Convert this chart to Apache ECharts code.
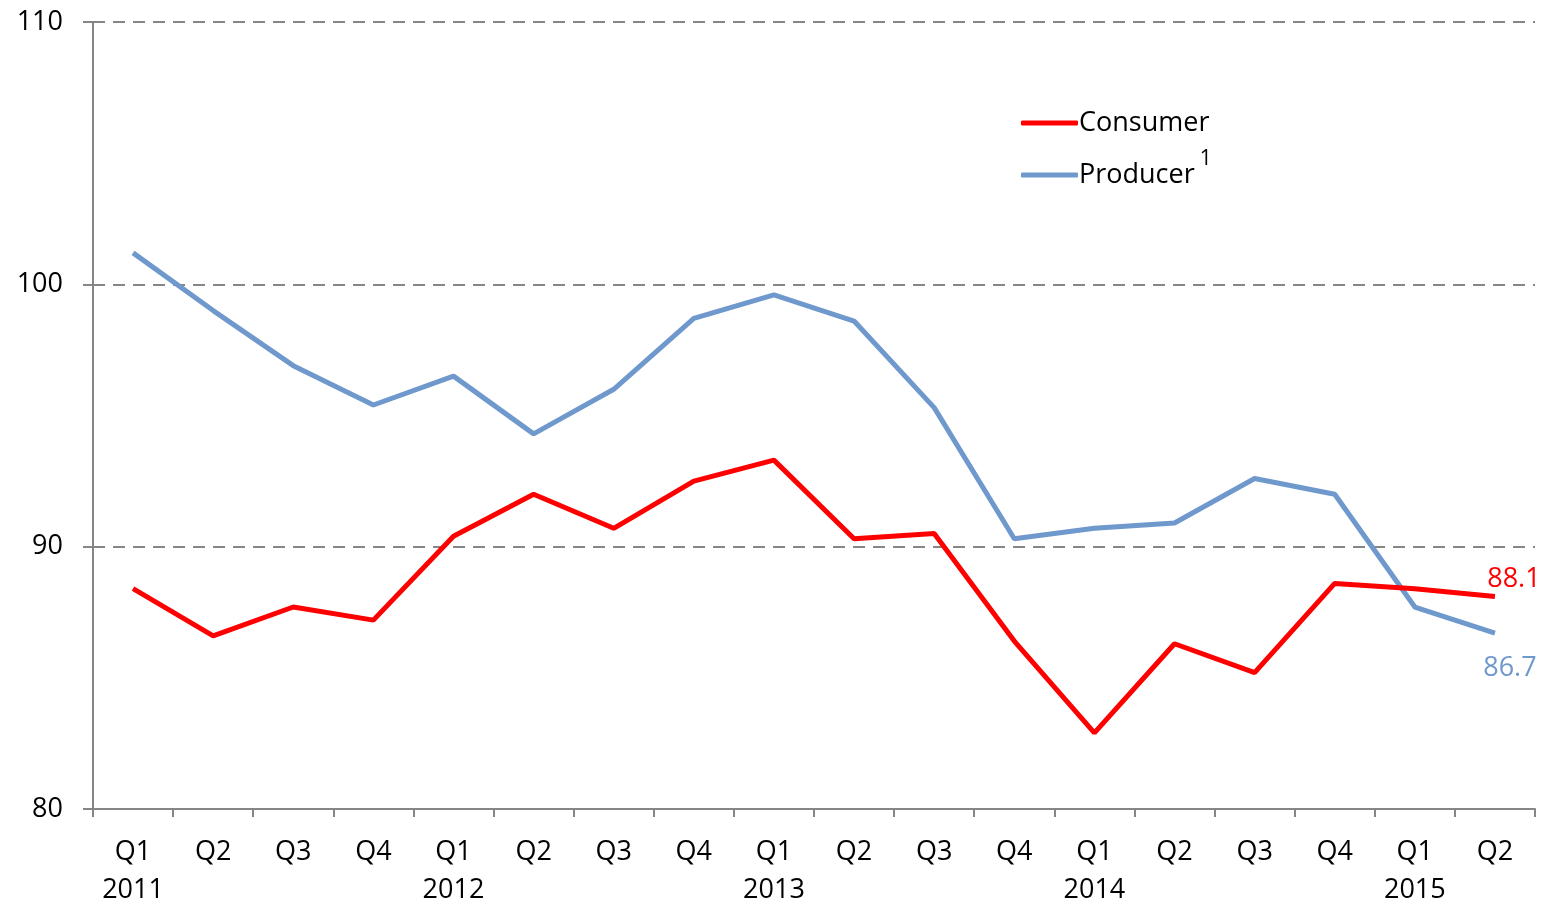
<!DOCTYPE html>
<html>
<head>
<meta charset="utf-8">
<script src="https://cdn.jsdelivr.net/npm/echarts@6/dist/echarts.min.js"></script>
<style>
  html, body { margin: 0; padding: 0; background: #fff; }
  #chart { width: 1545px; height: 903px; }
</style>
</head>
<body>
<div id="chart"></div>
<script>
const quarters = ["Q1", "Q2", "Q3", "Q4", "Q1", "Q2", "Q3", "Q4", "Q1", "Q2", "Q3", "Q4", "Q1", "Q2", "Q3", "Q4", "Q1", "Q2"];
const years = ["2011", "", "", "", "2012", "", "", "", "2013", "", "", "", "2014", "", "", "", "2015", ""];
const consumer = [88.4, 86.6, 87.7, 87.2, 90.4, 92.0, 90.7, 92.5, 93.3, 90.3, 90.5, 86.4, 82.9, 86.3, 85.2, 88.6, 88.4, 88.1];
const producer = [101.2, 99.0, 96.9, 95.4, 96.5, 94.3, 96.0, 98.7, 99.6, 98.6, 95.3, 90.3, 90.7, 90.9, 92.6, 92.0, 87.7, 86.7];

const font = "'Open Sans', sans-serif";
const red = "#FF0000";
const blue = "#6F98CD";

const categories = quarters.map((q, i) => q + "\n" + years[i]);

// label only on the last point (symbol kept tiny so the label is drawn)
function withEndLabel(arr, color, pos, offset) {
  return arr.map((v, i) => {
    if (i !== arr.length - 1) return v;
    return {
      value: v,
      label: {
        show: true, position: pos, offset: offset,
        color: color, fontFamily: font, fontSize: 27,
        formatter: (p) => p.value.toFixed(1)
      }
    };
  });
}

const chartInstance = echarts.init(document.getElementById("chart"));
chartInstance.setOption({
  animation: false,
  grid: { left: 93, right: 10, top: 22, bottom: 94, outerBoundsMode: "none", containLabel: false },
  legend: {
    orient: "vertical",
    left: 1016,
    top: 92,
    itemWidth: 57,
    itemHeight: 5,
    itemGap: 0,
    icon: "roundRect",
    textStyle: {
      fontFamily: font, fontSize: 27, color: "#000", lineHeight: 52, padding: [0, 0, 0, -4],
      rich: {
        sup: { fontFamily: font, fontSize: 21, lineHeight: 20, verticalAlign: "top", padding: [0, 0, 0, 5], color: "#000" }
      }
    },
    formatter: (name) => name === "Producer" ? "Producer{sup|1}" : name,
    data: ["Consumer", "Producer"]
  },
  xAxis: {
    type: "category",
    data: categories,
    boundaryGap: true,
    axisLine: { lineStyle: { color: "#868686", width: 2 } },
    axisTick: { show: true, interval: 0, length: 8, lineStyle: { color: "#868686", width: 2 } },
    axisLabel: {
      interval: 0, margin: 24, color: "#000",
      fontFamily: font, fontSize: 27, lineHeight: 38
    },
    splitLine: { show: false }
  },
  yAxis: {
    type: "value",
    min: 80, max: 110, interval: 10,
    axisLine: { show: true, lineStyle: { color: "#868686", width: 2 } },
    axisTick: { show: true, length: 10, lineStyle: { color: "#868686", width: 2 } },
    axisLabel: { margin: 30, color: "#000", fontFamily: font, fontSize: 27 },
    splitLine: { show: true, lineStyle: { color: "#868686", width: 2, type: [12, 8] } }
  },
  series: [
    {
      name: "Consumer",
      type: "line",
      data: withEndLabel(consumer, red, "top", [19, 1]),
      showSymbol: true,
      symbol: "circle",
      symbolSize: 0.1,
      color: red,
      lineStyle: { color: red, width: 5 },
      z: 3
    },
    {
      name: "Producer",
      type: "line",
      data: withEndLabel(producer, blue, "bottom", [15, 17]),
      showSymbol: true,
      symbol: "circle",
      symbolSize: 0.1,
      color: blue,
      lineStyle: { color: blue, width: 5 },
      z: 2
    }
  ]
});
</script>
</body>
</html>
